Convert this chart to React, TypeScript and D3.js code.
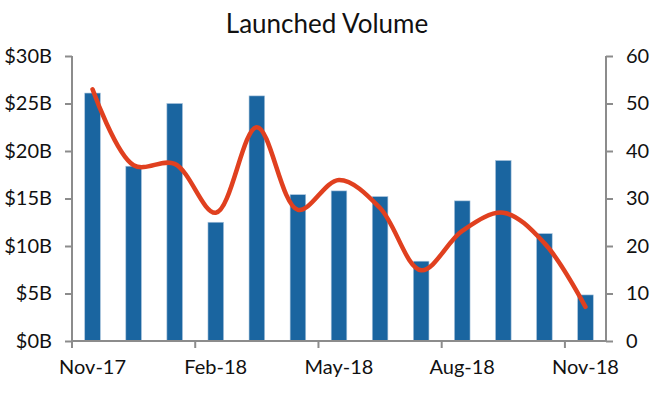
import React, { useRef, useEffect } from 'react';
import * as d3 from 'd3';

// months shown on the x axis
const months = [
  'Nov-17', 'Dec-17', 'Jan-18', 'Feb-18', 'Mar-18', 'Apr-18', 'May-18',
  'Jun-18', 'Jul-18', 'Aug-18', 'Sep-18', 'Oct-18', 'Nov-18',
];
// launched volume, $B (bars, left axis)
const volume = [26.1, 18.4, 25.0, 12.5, 25.8, 15.4, 15.8, 15.2, 8.4, 14.75, 19.0, 11.3, 4.85];
// count (line, right axis)
const count = [53, 37, 37.3, 27, 45, 27.6, 33.9, 28, 14.9, 23.2, 27, 20.6, 7.2];
// only every third month gets a label
const labelledMonths = ['Nov-17', 'Feb-18', 'May-18', 'Aug-18', 'Nov-18'];
const leftTicks = [0, 5, 10, 15, 20, 25, 30];
const rightTicks = [0, 10, 20, 30, 40, 50, 60];

const App = () => {
  const chartRef = useRef<SVGSVGElement>(null);

  useEffect(() => {
    const width = 652;
    const height = 395;
    const margin = { top: 56, right: 46, bottom: 54, left: 72 };
    const innerWidth = width - margin.left - margin.right;
    const innerHeight = height - margin.top - margin.bottom;
    const font = 'Lato, "Open Sans", sans-serif';
    const axisColor = '#8c8c8c';

    const svg = d3.select(chartRef.current);
    svg.selectAll('*').remove();

    svg
      .append('text')
      .attr('x', 327)
      .attr('y', 33)
      .attr('text-anchor', 'middle')
      .attr('font-family', font)
      .attr('font-size', 26)
      .attr('fill', '#111')
      .text('Launched Volume');

    const g = svg.append('g').attr('transform', `translate(${margin.left},${margin.top})`);

    const xScale = d3.scaleBand().domain(months).range([0, innerWidth]).paddingInner(0);
    const yLeft = d3.scaleLinear().domain([0, 30]).range([innerHeight, 0]);
    const yRight = d3.scaleLinear().domain([0, 60]).range([innerHeight, 0]);

    // bars
    const barWidth = xScale.bandwidth() * 0.38;
    g.selectAll('.bar')
      .data(volume)
      .enter()
      .append('rect')
      .attr('class', 'bar')
      .attr('x', (d, i) => xScale(months[i])! + (xScale.bandwidth() - barWidth) / 2)
      .attr('y', (d) => yLeft(d))
      .attr('width', barWidth)
      .attr('height', (d) => innerHeight - yLeft(d))
      .attr('fill', '#1a65a0')
      .attr('stroke', '#a9c4dc')
      .attr('stroke-width', 0.6);

    // left axis
    const leftAxis = g
      .append('g')
      .call(
        d3.axisLeft(yLeft).tickValues(leftTicks).tickSize(7).tickPadding(13)
          .tickFormat((d) => `$${d}B`)
      );
    // right axis
    const rightAxis = g
      .append('g')
      .attr('transform', `translate(${innerWidth},0)`)
      .call(d3.axisRight(yRight).tickValues(rightTicks).tickSize(7).tickPadding(13));
    // bottom axis: ticks at band starts, labels at band centres
    const bottomAxis = g.append('g').attr('transform', `translate(0,${innerHeight})`);
    bottomAxis
      .append('line')
      .attr('x1', 0)
      .attr('x2', innerWidth)
      .attr('stroke', axisColor)
      .attr('stroke-width', 2);
    bottomAxis
      .selectAll('.tick')
      .data(labelledMonths)
      .enter()
      .append('line')
      .attr('x1', (m) => xScale(m)!)
      .attr('x2', (m) => xScale(m)!)
      .attr('y1', 0)
      .attr('y2', 7)
      .attr('stroke', axisColor)
      .attr('stroke-width', 2);
    bottomAxis
      .selectAll('.label')
      .data(labelledMonths)
      .enter()
      .append('text')
      .attr('x', (m) => xScale(m)! + xScale.bandwidth() / 2)
      .attr('y', 33)
      .attr('text-anchor', 'middle')
      .attr('font-family', font)
      .attr('font-size', 20)
      .attr('fill', '#111')
      .text((m) => m);

    [leftAxis, rightAxis].forEach((ax) => {
      ax.select('.domain').attr('stroke', axisColor).attr('stroke-width', 2);
      ax.selectAll('.tick line').attr('stroke', axisColor).attr('stroke-width', 2);
      ax.selectAll('.tick text')
        .attr('font-family', font)
        .attr('font-size', 20)
        .attr('fill', '#111');
    });
    leftAxis.select('.domain').attr('d', `M0,${innerHeight}V0`);
    rightAxis.select('.domain').attr('d', `M0,${innerHeight}V0`);

    // smoothed line
    const line = d3
      .line<number>()
      .x((d, i) => xScale(months[i])! + xScale.bandwidth() / 2)
      .y((d) => yRight(d))
      .curve(d3.curveCatmullRom.alpha(0.5));
    g.append('path')
      .datum(count)
      .attr('d', line)
      .attr('fill', 'none')
      .attr('stroke', '#e0401f')
      .attr('stroke-width', 4.5)
      .attr('stroke-linecap', 'round');
  }, []);

  return (
    <svg
      ref={chartRef}
      width={652}
      height={395}
      style={{ position: 'absolute', left: 0, top: 0, display: 'block' }}
    ></svg>
  );
};

export default App;
